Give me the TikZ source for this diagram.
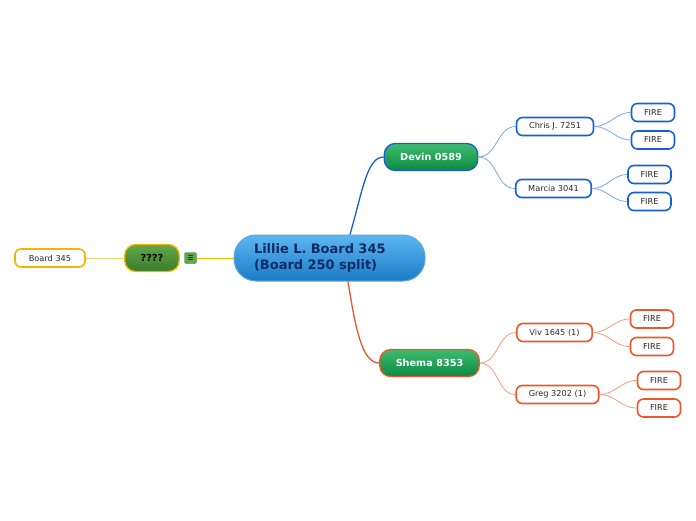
\documentclass[tikz,border=0pt]{standalone}
\usepackage{fontspec}
\setmainfont{DejaVu Sans}
\usepackage{xcolor}
\usepackage{tikz}
\usetikzlibrary{calc, shadings}

\definecolor{bluebd}{HTML}{1560D6}
\definecolor{bluelk}{HTML}{7AA6EA}
\definecolor{orgbd}{HTML}{F0542A}
\definecolor{orglk}{HTML}{F49A7C}
\definecolor{yelbd}{HTML}{F5B400}
\definecolor{yellk}{HTML}{F8CF6A}
\definecolor{grtop}{HTML}{3EBB6E}
\definecolor{grbot}{HTML}{0B8A42}
\definecolor{qqtop}{HTML}{62A84A}
\definecolor{qqbot}{HTML}{3A7C2A}
\definecolor{ctop}{HTML}{5CB6F0}
\definecolor{cbot}{HTML}{1C7BC8}
\definecolor{cbd}{HTML}{5AA8E0}
\definecolor{ctxt}{HTML}{0C2C62}
\definecolor{txtgray}{HTML}{2A2A2A}

\begin{document}
\begin{tikzpicture}[x=1pt, y=1pt,
    leaf/.style={draw, line width=1.6pt, rounded corners=6pt, fill=white,
        inner xsep=12.5pt, inner ysep=0pt, minimum height=18pt,
        font=\fontsize{8.2}{9}\selectfont, text=txtgray},
    topic/.style={draw, line width=1.3pt, rounded corners=11pt,
        inner xsep=16pt, inner ysep=0pt, minimum height=27pt,
        font=\bfseries\fontsize{9.7}{11}\selectfont, text=white,
        top color=grtop, bottom color=grbot},
    link/.style={line width=0.8pt}]
    \useasboundingbox (0,0) rectangle (696,-520);

    % Chủ đề trung tâm
    \node[draw=cbd, line width=1pt, rounded corners=22pt, top color=ctop, bottom color=cbot,
        minimum width=191pt, minimum height=46pt, text width=151pt, inner xsep=20pt,
        align=left, text=ctxt, font=\bfseries\fontsize{13}{16}\selectfont]
        (central) at (329.5,-258) {Lillie L. Board 345\\(Board 250 split)};

    % Hai nhánh chính
    \node[topic, draw=bluebd] (devin) at (431,-157) {Devin 0589};
    \node[topic, draw=orgbd] (shema) at (429.5,-363) {Shema 8353};
    \draw[bluebd, line width=1.3pt] ($(central.north)+(20.5,0)$)
        to[out=74, in=180, out looseness=1.4, in looseness=0.5] (devin.west);
    \draw[orgbd, line width=1.3pt] ($(central.south)+(18.5,0)$)
        to[out=-81, in=180, out looseness=1.4, in looseness=0.5] (shema.west);

    % Nhánh con
    \node[leaf, draw=bluebd] (chris) at (555,-126.5) {Chris J. 7251};
    \node[leaf, draw=bluebd] (marcia) at (553.5,-188.5) {Marcia 3041};
    \node[leaf, draw=orgbd] (viv) at (554.5,-332.5) {Viv 1645 (1)};
    \node[leaf, draw=orgbd] (greg) at (557.5,-394.5) {Greg 3202 (1)};
    \foreach \k in {chris, marcia}
        \draw[link, bluelk] (devin.east) to[out=0, in=180] (\k.west);
    \foreach \k in {viv, greg}
        \draw[link, orglk] (shema.east) to[out=0, in=180] (\k.west);

    % Các ô FIRE
    \foreach \n/\x/\y/\p/\c/\l in {fc1/653/112.5/chris/bluebd/bluelk, fc2/653/140/chris/bluebd/bluelk,
            fm1/649.5/174.5/marcia/bluebd/bluelk, fm2/649.5/201.5/marcia/bluebd/bluelk,
            fv1/652/319/viv/orgbd/orglk, fv2/652/346.5/viv/orgbd/orglk,
            fg1/659/380.5/greg/orgbd/orglk, fg2/659/408/greg/orgbd/orglk} {
        \node[leaf, draw=\c] (\n) at (\x,-\y) {FIRE};
        \draw[link, \l] (\p.east) to[out=0, in=180] (\n.west);
    }

    % Nhánh bên trái
    \node[topic, draw=yelbd, text=black, top color=qqtop, bottom color=qqbot] (qq) at (152,-258) {????};
    \node[draw=qqbot, fill=qqtop, rounded corners=2pt, minimum width=12pt, minimum height=11pt,
        inner sep=0pt, font=\fontsize{7}{7}\selectfont] (icon) at (190.5,-258) {☰};
    \node[leaf, draw=yelbd, minimum width=70pt] (board) at (50,-258) {Board 345};
    \draw[yelbd, line width=0.9pt] (central.west) -- (icon.east);
    \draw[yellk, line width=0.7pt] (qq.west) -- (board.east);
\end{tikzpicture}
\end{document}
